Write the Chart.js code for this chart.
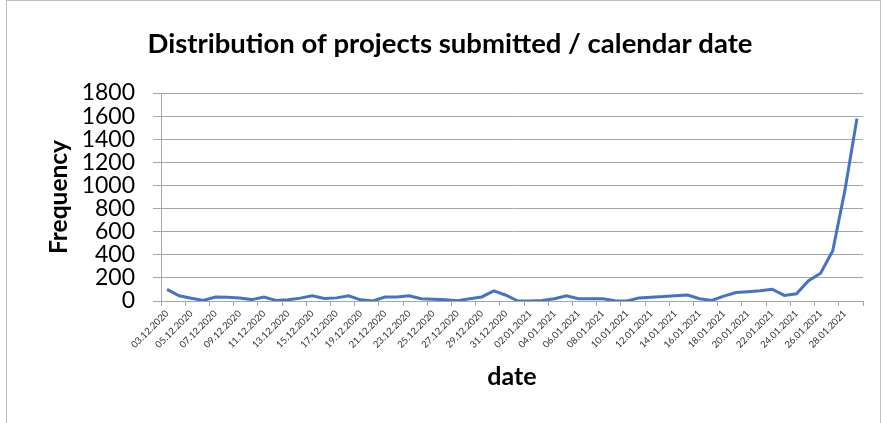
<!DOCTYPE html>
<html>
<head>
<meta charset="utf-8">
<script src="https://cdn.jsdelivr.net/npm/chart.js@4"></script>
<style>
  html, body { margin: 0; padding: 0; background: #ffffff; }
  #wrap { position: relative; width: 882px; height: 423px; overflow: hidden; }
  #frame { position: absolute; left: 6px; top: 0px; width: 875px; height: 440px; border: 1px solid #bfbfbf; box-sizing: border-box; }
  canvas { position: absolute; left: 0; top: 0; }
</style>
</head>
<body>
<div id="wrap">
  <div id="frame"></div>
  <canvas id="c" width="882" height="423"></canvas>
</div>
<script>
const categories = [
  "03.12.2020","04.12.2020","05.12.2020","06.12.2020","07.12.2020","08.12.2020","09.12.2020","10.12.2020",
  "11.12.2020","12.12.2020","13.12.2020","14.12.2020","15.12.2020","16.12.2020","17.12.2020","18.12.2020",
  "19.12.2020","20.12.2020","21.12.2020","22.12.2020","23.12.2020","24.12.2020","25.12.2020","26.12.2020",
  "27.12.2020","28.12.2020","29.12.2020","30.12.2020","31.12.2020","01.01.2021","02.01.2021","03.01.2021",
  "04.01.2021","05.01.2021","06.01.2021","07.01.2021","08.01.2021","09.01.2021","10.01.2021","11.01.2021",
  "12.01.2021","13.01.2021","14.01.2021","15.01.2021","16.01.2021","17.01.2021","18.01.2021","19.01.2021",
  "20.01.2021","21.01.2021","22.01.2021","23.01.2021","24.01.2021","25.01.2021","26.01.2021","27.01.2021",
  "28.01.2021","29.01.2021"
];
const frequency = [
  100, 45, 24, 5, 35, 32, 25, 12,
  35, 5, 10, 25, 45, 22, 27, 45,
  10, 0, 35, 35, 45, 20, 15, 10,
  2, 20, 35, 88, 50, 0, 0, 5,
  20, 45, 20, 20, 20, 3, 0, 27,
  33, 38, 46, 52, 20, 5, 42, 74,
  80, 88, 102, 48, 62, 175, 240, 435,
  955, 1580
];
const yTicks = [0, 200, 400, 600, 800, 1000, 1200, 1400, 1600, 1800];

const chartTitle = "Distribution of projects submitted / calendar date";
const xTitle = "date";
const yTitle = "Frequency";

const FONT = "Lato, 'Open Sans', sans-serif";
const GRID = "#a6a6a6";

new Chart(document.getElementById('c'), {
  type: 'line',
  data: {
    labels: categories,
    datasets: [{
      data: frequency,
      borderColor: '#4472C4',
      borderWidth: 3,
      pointRadius: 0,
      tension: 0,
      fill: false
    }]
  },
  options: {
    responsive: false,
    animation: false,
    layout: { padding: { left: 37, right: 19, top: 0, bottom: 0 } },
    plugins: {
      legend: { display: false },
      tooltip: { enabled: false },
      title: {
        display: true,
        text: chartTitle,
        color: '#000000',
        font: { family: FONT, size: 27.5, weight: 'bold' },
        padding: { top: 27.5, bottom: 32.5 }
      }
    },
    scales: {
      x: {
        type: 'category',
        offset: true,
        afterFit: (s) => { s.height = 122; },
        grid: {
          display: true,
          offset: true,
          drawOnChartArea: false,
          drawTicks: true,
          tickLength: 5,
          color: (c) => (c.index === undefined || c.index % 2 === 0) ? GRID : 'rgba(0,0,0,0)',
          lineWidth: 1
        },
        border: { display: true, color: GRID, width: 1 },
        ticks: {
          autoSkip: false,
          maxRotation: 45,
          minRotation: 45,
          padding: 2,
          color: '#333333',
          font: { family: FONT, size: 9.5 },
          callback: function (v, i) { return i % 2 === 0 ? categories[i] : ''; }
        },
        title: {
          display: true,
          text: xTitle,
          color: '#000000',
          font: { family: FONT, size: 25, weight: 'bold' },
          padding: { top: 0, bottom: 31 }
        }
      },
      y: {
        min: 0,
        max: 1800,
        afterFit: (s) => { s.width = 124; },
        afterBuildTicks: (s) => { s.ticks = yTicks.map(v => ({ value: v })); },
        grid: {
          color: GRID,
          lineWidth: 1,
          drawTicks: true,
          tickLength: 8
        },
        border: { display: true, color: GRID, width: 1 },
        ticks: {
          autoSkip: false,
          padding: 18,
          color: '#000000',
          font: { family: FONT, size: 23 },
          callback: (v) => String(v)
        },
        title: {
          display: true,
          text: yTitle,
          color: '#000000',
          font: { family: FONT, size: 24.5, weight: 'bold' },
          padding: { top: 7, bottom: 0 }
        }
      }
    }
  }
});
</script>
</body>
</html>
